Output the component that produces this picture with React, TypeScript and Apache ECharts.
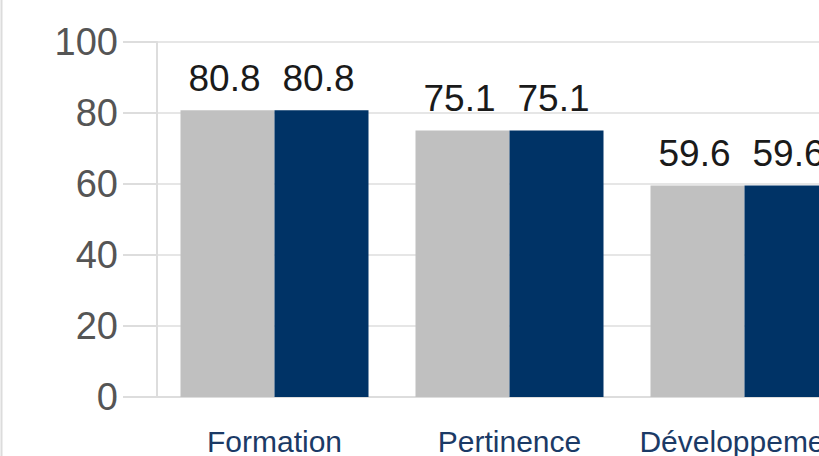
import React, { useEffect, useRef } from "react";
import * as echarts from "echarts";

const categories = ["Formation", "Pertinence", "Développement"];
const seriesA = [80.8, 75.1, 59.6];
const seriesB = [80.8, 75.1, 59.6];
const yTicks = [0, 20, 40, 60, 80, 100];

export default function App() {
  const ref = useRef<HTMLDivElement>(null);
  useEffect(() => {
    document.body.style.margin = "0";
    const chart = echarts.init(ref.current!, null, { renderer: "svg" });
    const font = "'Liberation Sans', Arial, Helvetica, sans-serif";
    const labelCfg = {
      show: true,
      position: "top",
      distance: 13,
      fontSize: 37,
      fontFamily: font,
      color: "#1a1a1a",
      offset: [-3, 0],
    };
    chart.setOption({
      animation: false,
      backgroundColor: "#ffffff",
      graphic: [
        {
          type: "line",
          shape: { x1: 1.5, y1: 0, x2: 1.5, y2: 456 },
          style: { stroke: "#dcdcdc", lineWidth: 2 },
        },
      ],
      grid: {
        left: 157,
        top: 42,
        bottom: 59,
        right: -43,
        containLabel: false,
        outerBoundsMode: "none",
      },
      xAxis: {
        type: "category",
        data: categories,
        axisLine: { show: true, lineStyle: { color: "#dddddd", width: 2 } },
        axisTick: { show: false },
        axisLabel: {
          interval: 0,
          margin: 29,
          fontSize: 30,
          fontFamily: font,
          color: "#1b3a66",
        },
      },
      yAxis: {
        type: "value",
        min: yTicks[0],
        max: yTicks[yTicks.length - 1],
        interval: 20,
        axisLine: { show: true, lineStyle: { color: "#dddddd", width: 2 } },
        axisTick: { show: true, length: 34, lineStyle: { color: "#dddddd", width: 2 } },
        splitLine: { show: true, lineStyle: { color: "#e6e6e6", width: 2 } },
        axisLabel: {
          margin: 39,
          fontSize: 38,
          fontFamily: font,
          color: "#555555",
          padding: [0, 0, 4, 0],
        },
      },
      series: [
        {
          type: "bar",
          data: seriesA,
          barWidth: 94,
          barGap: "0%",
          itemStyle: { color: "#c0c0c0" },
          label: labelCfg,
        },
        {
          type: "bar",
          data: seriesB,
          barWidth: 94,
          barGap: "0%",
          itemStyle: { color: "#003366" },
          label: labelCfg,
        },
      ],
    });
    return () => chart.dispose();
  }, []);
  return <div ref={ref} style={{ width: 819, height: 456 }} />;
}
